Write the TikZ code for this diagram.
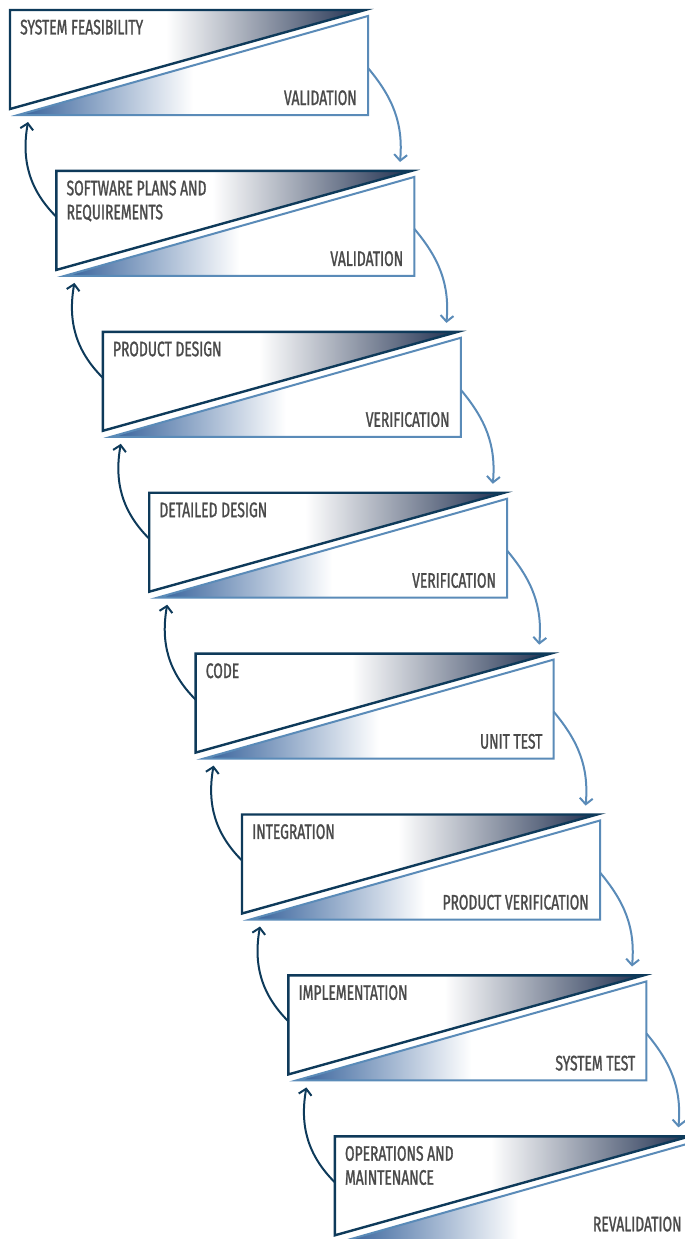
\documentclass[tikz,border=0pt]{standalone}
\usepackage{fontspec}
\setmainfont{Fira Sans}[FakeStretch=0.66, FakeBold=1.2]
\usetikzlibrary{positioning, calc, arrows.meta}
\definecolor{mynavy}{HTML}{0E3A5A}
\definecolor{myblue}{HTML}{5A8BB8}
\definecolor{mydark}{HTML}{1F2F4F}
\definecolor{mymid}{HTML}{34609A}
\definecolor{mygray}{HTML}{4A4A4A}
\pgfdeclarehorizontalshading{uppershade}{100bp}{color(0bp)=(white); color(25bp)=(white); color(47bp)=(white); color(75bp)=(mydark); color(100bp)=(mydark)}
\pgfdeclarehorizontalshading{lowershade}{100bp}{color(0bp)=(mymid); color(25bp)=(mymid); color(50bp)=(white); color(100bp)=(white)}
\tikzset{
	stepbox/.pic={
			\path[shading=uppershade] (0,0) -- (355,0) -- (0,-99) -- cycle;
			\draw[mynavy, line width=2.4pt] (0,0) -- (355,0) -- (0,-99) -- cycle;
			\path[shading=lowershade] (358,-6) -- (358,-105) -- (8,-105) -- cycle;
			\draw[myblue, line width=2pt] (358,-6) -- (358,-105) -- (8,-105) -- cycle;
		}
}
\tikzset{
	uplabel/.style={font=\fontsize{21}{24}\selectfont\color{mygray}, inner sep=0pt, align=left}
}
\tikzset{
	lowlabel/.style={font=\fontsize{21}{24}\selectfont\color{mygray}, inner sep=0pt}
}

\begin{document}
\begin{tikzpicture}[x=1pt, y=1pt,
	rarrow/.style={myblue, line width=2pt, -{Straight Barb[length=6pt,width=13pt]}},
	larrow/.style={mynavy, line width=2pt, -{Straight Barb[length=6pt,width=13pt]}}]
\useasboundingbox (0,0) rectangle (685,-1239);
\clip (0,0) rectangle (685,-1239);

\foreach \i/\up/\low in {0/{SYSTEM FEASIBILITY}/VALIDATION,
		1/{SOFTWARE PLANS AND\\REQUIREMENTS}/VALIDATION,
		2/{PRODUCT DESIGN}/VERIFICATION,
		3/{DETAILED DESIGN}/VERIFICATION,
		4/CODE/{UNIT TEST},
		5/INTEGRATION/{PRODUCT VERIFICATION},
		6/IMPLEMENTATION/{SYSTEM TEST},
		7/{OPERATIONS AND\\MAINTENANCE}/REVALIDATION}{
	\pgfmathsetmacro\bx{10+46.4*\i}
	\pgfmathsetmacro\by{-10-160.9*\i}
	\coordinate (b\i) at (\bx,\by);
	\pic at (b\i) {stepbox};
	\node[uplabel, below right=9.5pt and 10pt of b\i] (up\i) {\up};
	\node[lowlabel, anchor=base east] (low\i) at ($(b\i)+(347,-95)$) {\low};
}

% arrows between the steps
\foreach \i in {0,...,6}{
	\coordinate (r\i) at ($(b\i)+(358,-58)$);
	\coordinate (t\i) at ($(b\i)+(390,-152)$);
	\draw[rarrow] (r\i) to[out=-50, in=85] (t\i);
	\coordinate (l\i) at ($(b\i)+(46.4,-206.9)$);
	\coordinate (u\i) at ($(b\i)+(18,-112)$);
	\draw[larrow] (l\i) to[out=135, in=-100] (u\i);
}

\end{tikzpicture}
\end{document}
